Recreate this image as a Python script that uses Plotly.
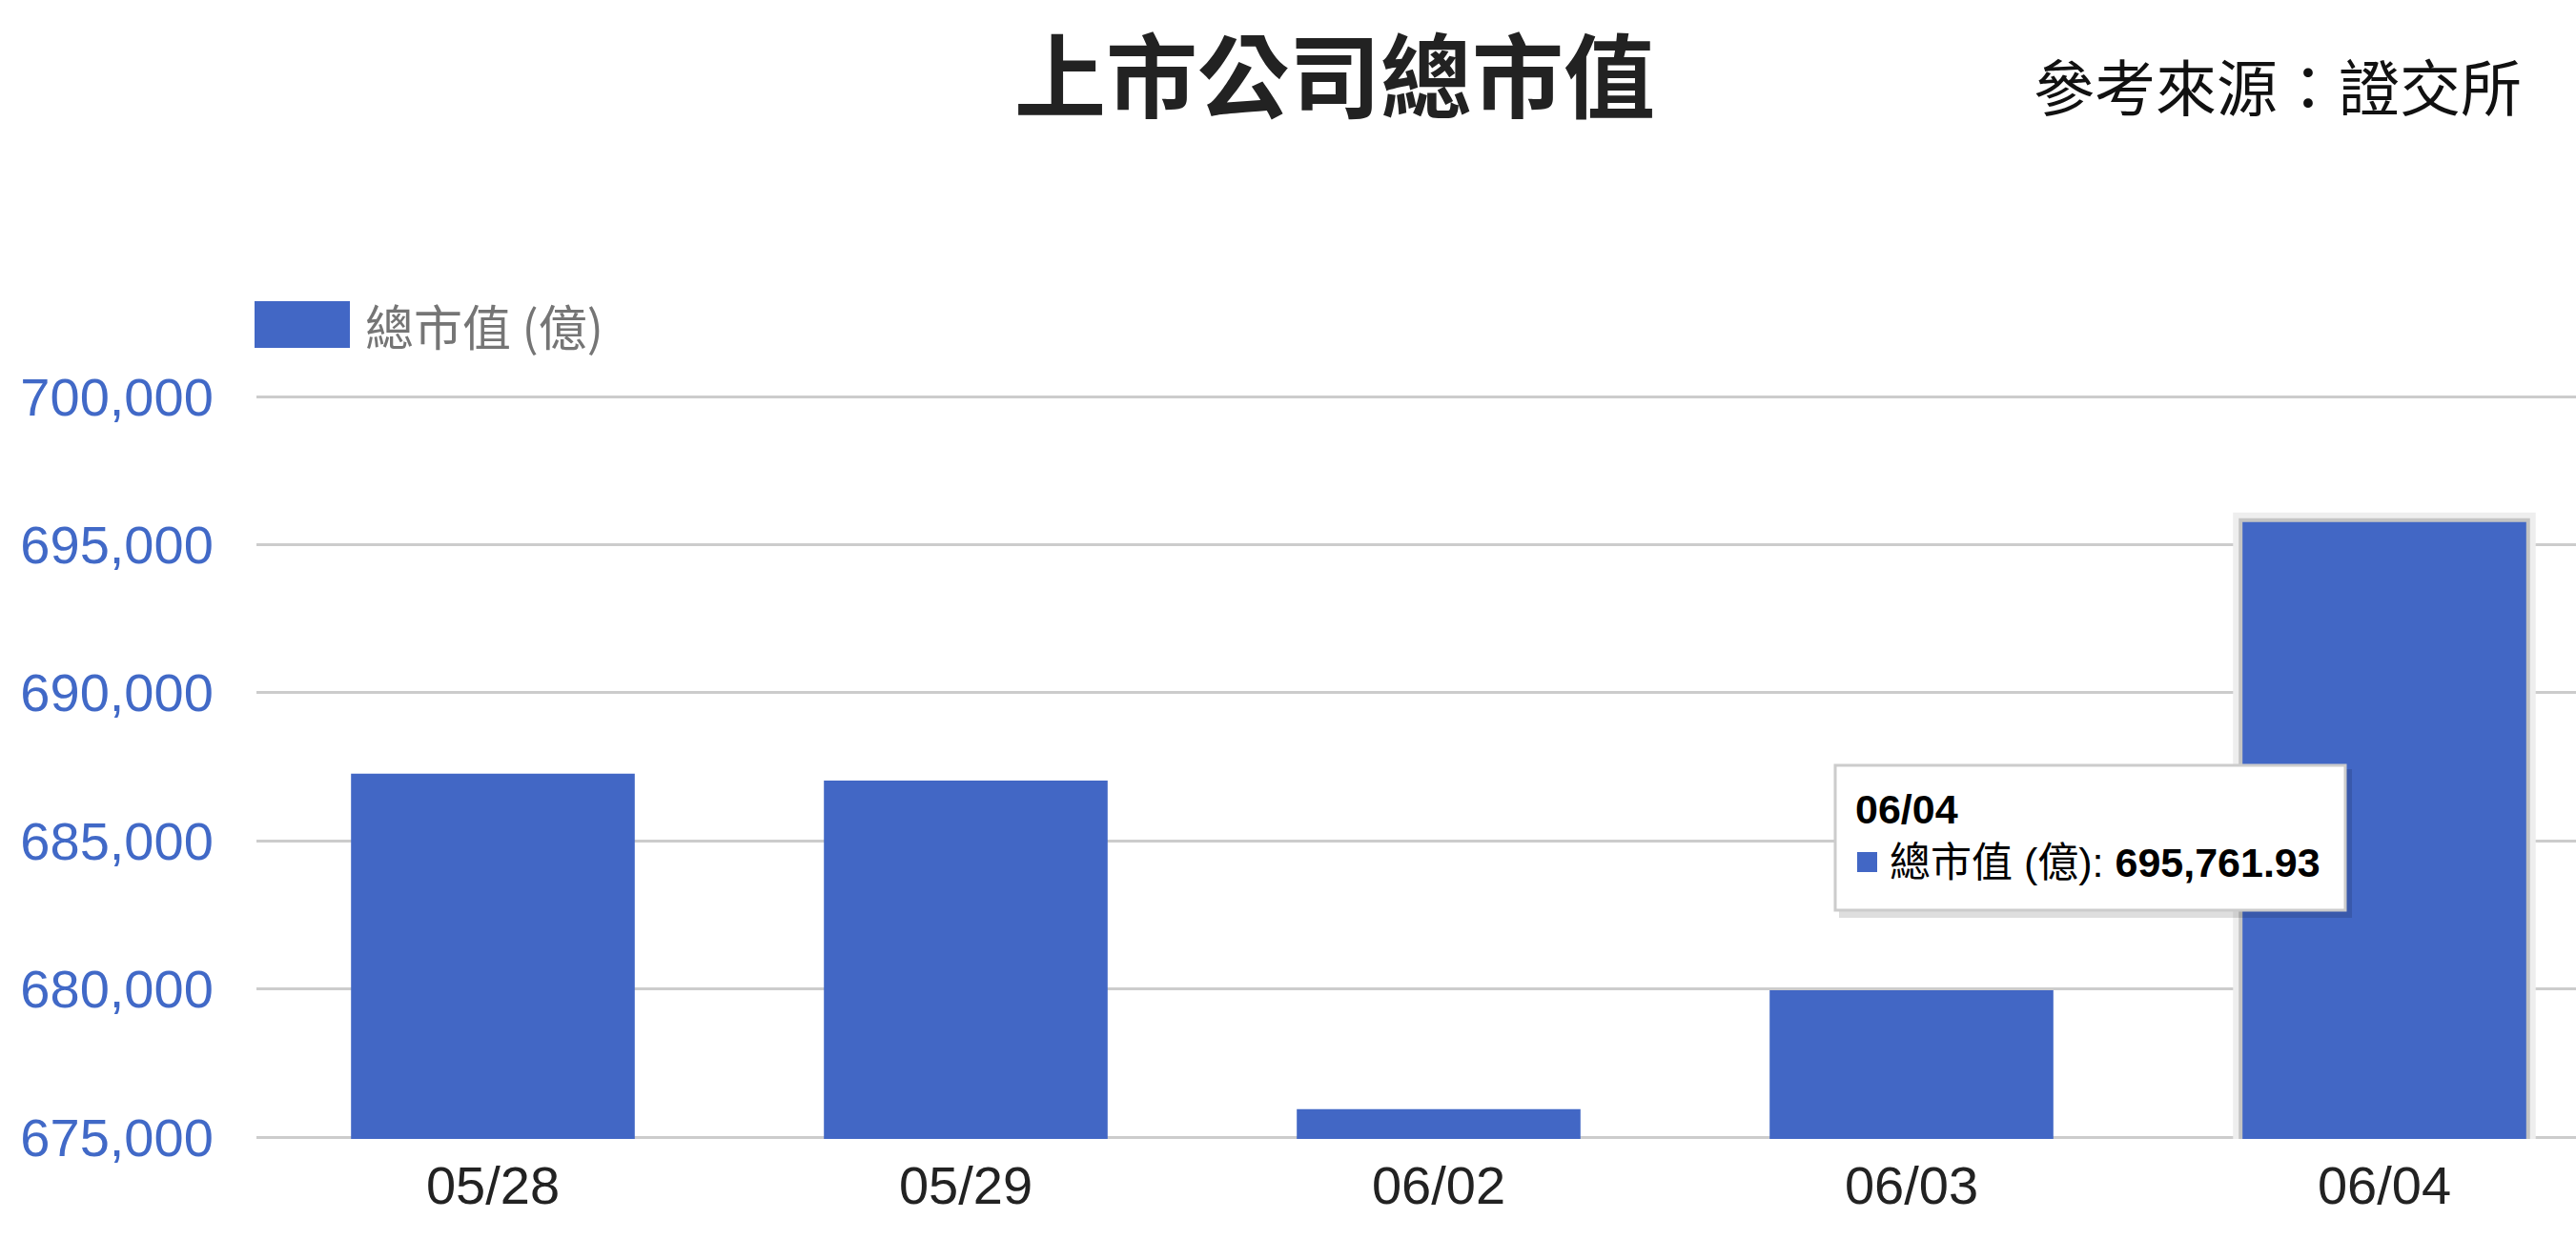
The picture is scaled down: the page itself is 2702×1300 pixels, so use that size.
import plotly.graph_objects as go

# ---- data ----
categories = ["05/28", "05/29", "06/02", "06/03", "06/04"]
values = [687264, 687037, 675945, 679951, 695761.93]
series_name = "總市值 (億)"
title_text = "上市公司總市值"
source_text = "參考來源：證交所"
y_ticks = [675000, 680000, 685000, 690000, 695000, 700000]
y_lo, y_hi = 675000, 700000
hover_index = 4

# ---- style / layout constants (screen pixels) ----
W, H = 2702, 1300
SCR_LEFT, SCR_TOP700, SCR_BOT675 = 269, 416, 1193
PADPX = 2
YUNIT = (y_hi - y_lo) / (SCR_BOT675 - SCR_TOP700)
y_range = [y_lo - PADPX * YUNIT, y_hi + PADPX * YUNIT]
L = SCR_LEFT
T = SCR_TOP700 - PADPX
B = H - (SCR_BOT675 + PADPX)
R = 0
PLOT_W = W - L - R
PLOT_H = H - T - B
CAT_PX = 496
BAR_COLOR = "#4267c5"
TICK_BLUE = "#4169c7"
LATIN = "Liberation Sans, Arial, Noto Sans CJK TC"
CJK = "Noto Sans CJK TC, Liberation Sans"


def px(sx):
    return (sx - L) / PLOT_W


def py(sy):
    return (H - B - sy) / PLOT_H


fig = go.Figure()
fig.add_trace(go.Bar(
    x=categories, y=values, name=series_name,
    marker=dict(color=BAR_COLOR, line=dict(width=0)),
    width=0.6, showlegend=False,
))

shapes = []
annotations = []

# hover highlight around the hovered bar (derived from data)
hx = hover_index
hv = values[hover_index]
shapes.append(dict(type="rect", xref="x", yref="y", layer="between",
                   x0=hx - 0.3 - 0.02, x1=hx + 0.3 + 0.02,
                   y0=y_range[0], y1=hv + 10 * YUNIT,
                   fillcolor="#eeeeee", line=dict(width=0)))
shapes.append(dict(type="rect", xref="x", yref="y", layer="between",
                   x0=hx - 0.3 - 0.008, x1=hx + 0.3 + 0.008,
                   y0=y_range[0], y1=hv + 4 * YUNIT,
                   fillcolor="#c4c4c4", line=dict(width=0)))

# legend (manual, wide swatch)
shapes.append(dict(type="rect", xref="paper", yref="paper",
                   x0=px(267), x1=px(367), y0=py(365), y1=py(316),
                   fillcolor=BAR_COLOR, line=dict(width=0)))
annotations.append(dict(xref="paper", yref="paper", x=px(381), y=py(341),
                        xanchor="left", yanchor="middle", showarrow=False,
                        text=series_name,
                        font=dict(family=CJK, size=51, color="#757575")))

# tooltip box
tx0, tx1, ty0, ty1 = 1925, 2460, 803, 955
shapes.append(dict(type="rect", xref="paper", yref="paper", layer="above",
                   x0=px(tx0 + 4), x1=px(tx1 + 7), y0=py(ty1 + 8), y1=py(ty0 + 4),
                   fillcolor="rgba(0,0,0,0.13)", line=dict(width=0)))
shapes.append(dict(type="rect", xref="paper", yref="paper", layer="above",
                   x0=px(tx0), x1=px(tx1), y0=py(ty1), y1=py(ty0),
                   fillcolor="#ffffff", line=dict(color="#cccccc", width=3)))
shapes.append(dict(type="rect", xref="paper", yref="paper", layer="above",
                   x0=px(1948), x1=px(1969), y0=py(915), y1=py(894),
                   fillcolor=BAR_COLOR, line=dict(width=0)))
annotations.append(dict(xref="paper", yref="paper", x=px(1944), y=py(849),
                        xanchor="left", yanchor="middle", showarrow=False,
                        text="<b>" + categories[hover_index] + "</b>",
                        font=dict(family=LATIN, size=43, color="#000000")))
annotations.append(dict(xref="paper", yref="paper", x=px(1980), y=py(905),
                        xanchor="left", yanchor="middle", showarrow=False,
                        text=series_name + ": <b>" + f"{hv:,.2f}" + "</b>",
                        font=dict(family=LATIN, size=43, color="#000000")))

# title and source
annotations.append(dict(xref="paper", yref="paper", x=px(1400), y=py(74),
                        xanchor="center", yanchor="middle", showarrow=False,
                        text="<b>" + title_text + "</b>",
                        font=dict(family=CJK, size=96, color="#222222")))
annotations.append(dict(xref="paper", yref="paper", x=px(2647), y=py(88),
                        xanchor="right", yanchor="middle", showarrow=False,
                        text=source_text,
                        font=dict(family=CJK, size=64, color="#111111")))

fig.update_layout(
    width=W, height=H,
    margin=dict(l=L, r=R, t=T, b=B, pad=0),
    paper_bgcolor="white", plot_bgcolor="white",
    bargap=0.4,
    shapes=shapes, annotations=annotations,
    xaxis=dict(type="category", range=[-0.5, -0.5 + PLOT_W / CAT_PX],
               showgrid=False, showline=False, zeroline=False,
               ticks="outside", ticklen=0, tickcolor="rgba(0,0,0,0)",
               tickfont=dict(family=LATIN, size=56, color="#222222")),
    yaxis=dict(range=y_range, tickvals=y_ticks, tickformat=",",
               showgrid=True, gridcolor="#cccccc", gridwidth=3,
               zeroline=False, showline=False,
               ticks="outside", ticklen=33, tickcolor="rgba(0,0,0,0)",
               tickfont=dict(family=LATIN, size=56, color=TICK_BLUE)),
)

fig.write_html(
    "out.html",
    config={"displayModeBar": False},
    post_script="document.body.style.margin='0';document.body.style.overflow='hidden';",
)
